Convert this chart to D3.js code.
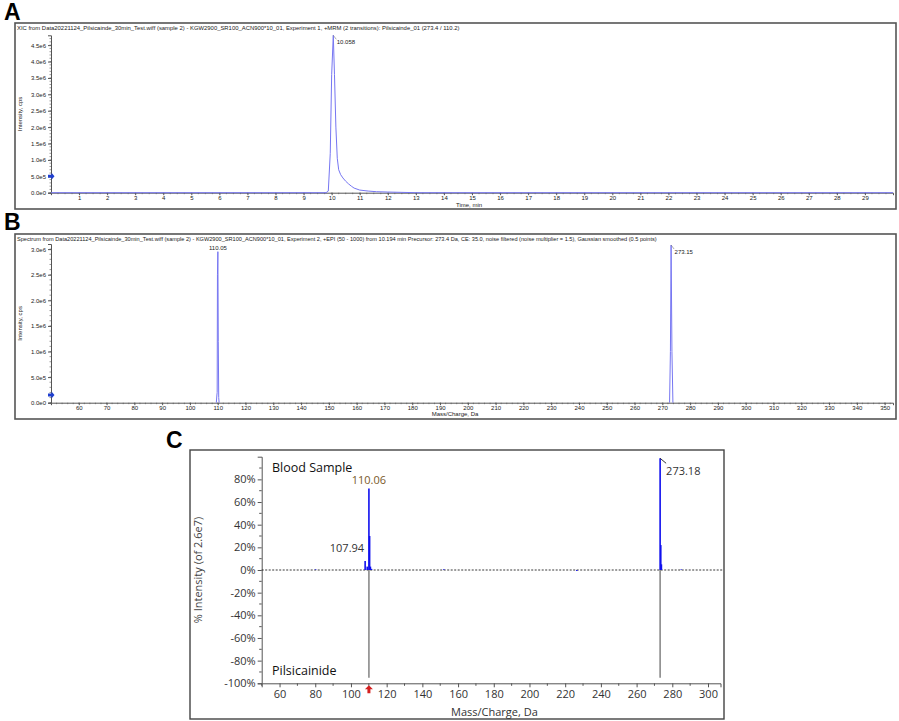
<!DOCTYPE html>
<html>
<head>
<meta charset="utf-8">
<script src="https://cdn.jsdelivr.net/npm/d3@7"></script>
<style>
  body { margin: 0; background: #fff; }
  svg { display: block; font-family: "Liberation Sans", Arial, sans-serif; }
  .small text { font-size: 6px; fill: #222; }
</style>
</head>
<body>
<div id="fig"></div>
<script>
// ---- data ----
// A: XIC trace (time in min, intensity in cps)
var xicTime = [0, 9.8, 9.88, 9.95, 10.0, 10.058, 10.1, 10.15, 10.2, 10.25, 10.32, 10.4, 10.5, 10.6, 10.7, 10.8, 11.0, 11.3, 11.6, 12.0, 12.5, 13.0, 30];
var xicInt  = [0, 0, 0.05e6, 1.2e6, 3.6e6, 4.8e6, 3.6e6, 2.0e6, 1.05e6, 0.7e6, 0.55e6, 0.45e6, 0.35e6, 0.27e6, 0.2e6, 0.14e6, 0.08e6, 0.05e6, 0.03e6, 0.02e6, 0.01e6, 0, 0];
var xicTicks = d3.range(1, 30);
var xicYTicks = [0, 0.5e6, 1.0e6, 1.5e6, 2.0e6, 2.5e6, 3.0e6, 3.5e6, 4.0e6, 4.5e6];
var xicPeak = {x: 10.058, y: 4.8e6, label: "10.058"};
var xicMarker = 5.0e5;
var xicTitle = "XIC from Data20221124_Pilsicainde_30min_Test.wiff (sample 2) - KGW2900_SR100_ACN900*10_01, Experiment 1, +MRM (2 transitions): Pilsicainde_01 (273.4 / 110.2)";

// B: product ion spectrum
var specMz1  = [109.5, 109.7, 109.8, 109.9, 110.05, 110.2, 110.35, 110.5];
var specInt1 = [0, 0.15e6, 0.2e6, 2.5e6, 2.95e6, 1.2e6, 0.1e6, 0];
var specMz2  = [272.6, 272.9, 273.15, 273.45, 273.8];
var specInt2 = [0, 1.0e6, 3.08e6, 1.0e6, 0];
var specTicks = d3.range(60, 351, 10);
var specYTicks = [0, 0.5e6, 1.0e6, 1.5e6, 2.0e6, 2.5e6, 3.0e6];
var specLabels = [{x: 110.05, y: 2.95e6, label: "110.05"}, {x: 273.15, y: 3.08e6, label: "273.15"}];
var specMarker = 1.5e5;
var specTitle = "Spectrum from Data20221124_Pilsicainde_30min_Test.wiff (sample 2) - KGW2900_SR100_ACN900*10_01, Experiment 2, +EPI (50 - 1000) from 10.194 min Precursor: 273.4 Da, CE: 35.0, noise filtered (noise multiplier = 1.5), Gaussian smoothed (0.5 points)";

// C: mirror plot, % intensity
var bloodMz  = [80.2, 107.94, 109.1, 110.06, 110.45, 110.9, 111.5, 152.0, 226.5, 273.18, 273.55, 273.9, 285.0];
var bloodPct = [0.5, 8, 3, 72, 30, 3, 1, 0.6, -0.8, 98.6, 22, 5, 0.5];
var refMz  = [110.06, 273.18];
var refPct = [-95, -95];
var mirrorXTicks = d3.range(60, 301, 20);
var mirrorYTicks = d3.range(-100, 81, 20);
var mirrorLabels = [{x: 110.06, y: 72, label: "110.06"}, {x: 107.94, y: 8, label: "107.94"}, {x: 273.18, y: 98.6, label: "273.18"}];
var precursorMz = 110.06;

var svg = d3.select("#fig").append("svg")
    .attr("width", 899)
    .attr("height", 721);

// panel letters
svg.append("text").attr("x", 4).attr("y", 20).text("A")
    .style("font-size", "23px").style("font-weight", "bold").style("font-family", "Liberation Sans, Arial");
svg.append("text").attr("x", 4).attr("y", 230).text("B")
    .style("font-size", "23px").style("font-weight", "bold").style("font-family", "Liberation Sans, Arial");
svg.append("text").attr("x", 166).attr("y", 448).text("C")
    .style("font-size", "23px").style("font-weight", "bold").style("font-family", "Liberation Sans, Arial");

var traceColor = "#7676f2";

function smallPanel(opt) {
    var g = svg.append("g").attr("class", "small");

    g.append("rect") // frame
        .attr("x", opt.frame[0]).attr("y", opt.frame[1])
        .attr("width", opt.frame[2] - opt.frame[0]).attr("height", opt.frame[3] - opt.frame[1])
        .attr("fill", "none").attr("stroke", "#555").attr("stroke-width", 1.6);

    g.append("text").attr("x", opt.frame[0] + 2).attr("y", opt.frame[1] + 7)
        .text(opt.title).style("font-size", opt.titleSize);

    var x = opt.x, y = opt.y;

    var xAxis = g.append("g")
        .attr("transform", "translate(0," + y(0) + ")")
        .call(d3.axisBottom(x).tickValues(opt.xTicks).tickSize(2.5).tickPadding(1).tickFormat(d3.format("d")));
    xAxis.append("g").selectAll("line")
        .data(opt.xMinor).join("line")
        .attr("x1", d => x(d)).attr("x2", d => x(d))
        .attr("y1", 0).attr("y2", 1.5).attr("stroke", "#555").attr("stroke-width", 0.6);

    var yAxis = g.append("g")
        .attr("transform", "translate(" + x.range()[0] + ",0)")
        .call(d3.axisLeft(y).tickValues(opt.yTicks).tickSize(3).tickPadding(2)
            .tickFormat(d => d3.format(".1e")(d).replace("+", "")));
    yAxis.append("g").selectAll("line")
        .data(opt.yMinor).join("line")
        .attr("y1", d => y(d)).attr("y2", d => y(d))
        .attr("x1", 0).attr("x2", -1.5).attr("stroke", "#555").attr("stroke-width", 0.6);
    g.selectAll(".domain").attr("stroke", "#555");
    g.selectAll(".tick line").attr("stroke", "#555");
    g.selectAll(".tick text").style("font-size", "6px").attr("fill", "#222");

    // axis titles
    g.append("text")
        .attr("transform", "translate(" + opt.yLabelX + "," + (y.range()[0] + y.range()[1]) / 2 + ") rotate(-90)")
        .attr("text-anchor", "middle").text(opt.yLabel).style("font-size", "6px");
    g.append("text").attr("x", opt.xLabelPos[0]).attr("y", opt.xLabelPos[1])
        .attr("text-anchor", "middle").text(opt.xLabel).style("font-size", "6px");

    // traces
    var line = d3.line().x(d => x(d[0])).y(d => y(d[1]));
    opt.traces.forEach(function (t) {
        g.append("path").datum(d3.zip(t[0], t[1]))
            .attr("d", line).attr("fill", "none")
            .attr("stroke", traceColor).attr("stroke-width", 1);
    });

    // blue marker on the y axis
    var my = y(opt.marker), mx = x.range()[0];
    g.append("path")
        .attr("d", "M" + (mx - 3) + "," + (my - 1.5) + "L" + (mx + 0.5) + "," + (my - 1.5) + "L" + (mx + 0.5) + "," + (my - 3.5) +
              "L" + (mx + 3.5) + "," + my + "L" + (mx + 0.5) + "," + (my + 3.5) + "L" + (mx + 0.5) + "," + (my + 1.5) +
              "L" + (mx - 3) + "," + (my + 1.5) + "Z")
        .attr("fill", "#1f3fd0");

    // peak labels
    opt.labels.forEach(function (p) {
        if (p.side === "top") {
            g.append("text").attr("x", x(p.x)).attr("y", y(p.y) - 2)
                .attr("text-anchor", "middle").text(p.label).style("font-size", "6px");
        } else {
            g.append("path")
                .attr("d", "M" + x(p.x) + "," + y(p.y) + "L" + (x(p.x) + 3) + "," + (y(p.y) + 4))
                .attr("stroke", "#777").attr("stroke-width", 0.6).attr("fill", "none");
            g.append("text").attr("x", x(p.x) + 3.5).attr("y", y(p.y) + 9)
                .text(p.label).style("font-size", "6px");
        }
    });
}

// Panel A
var xA = d3.scaleLinear().domain([0, 30]).range([51, 893]);
var yA = d3.scaleLinear().domain([0, 4.8e6]).range([192.7, 35.3]);
smallPanel({
    frame: [15, 23, 896, 209],
    title: xicTitle, titleSize: "5.9px",
    x: xA, y: yA,
    xTicks: xicTicks, xMinor: d3.range(0, 30, 0.25),
    yTicks: xicYTicks, yMinor: d3.range(0, 4.8e6, 1e5),
    yLabel: "Intensity, cps", yLabelX: 22,
    xLabel: "Time, min", xLabelPos: [469, 207.2],
    traces: [[xicTime, xicInt]],
    marker: xicMarker,
    labels: [{x: xicPeak.x, y: xicPeak.y, label: xicPeak.label, side: "right"}]
});

// Panel B
var xB = d3.scaleLinear().domain([50, 353]).range([51, 893]);
var yB = d3.scaleLinear().domain([0, 3.1e6]).range([402.7, 244]);
smallPanel({
    frame: [15, 234, 896, 419],
    title: specTitle, titleSize: "5.6px",
    x: xB, y: yB,
    xTicks: specTicks, xMinor: d3.range(50, 353, 2),
    yTicks: specYTicks, yMinor: d3.range(0, 3.1e6, 1e5),
    yLabel: "Intensity, cps", yLabelX: 22,
    xLabel: "Mass/Charge, Da", xLabelPos: [455, 416.2],
    traces: [[specMz1, specInt1], [specMz2, specInt2]],
    marker: specMarker,
    labels: [{x: specLabels[0].x, y: specLabels[0].y, label: specLabels[0].label, side: "top"},
             {x: specLabels[1].x, y: specLabels[1].y, label: specLabels[1].label, side: "right"}]
});

// Panel C
var gC = svg.append("g").style("font-family", "'Open Sans', 'Noto Sans', sans-serif");
gC.append("rect")
    .attr("x", 190).attr("y", 450).attr("width", 534).attr("height", 269)
    .attr("fill", "none").attr("stroke", "#444").attr("stroke-width", 1.4);

var xC = d3.scaleLinear().domain([50, 307]).range([261.7, 720.5]);
var yC = d3.scaleLinear().domain([-100, 100]).range([683.3, 456.7]);

var xAxisC = gC.append("g")
    .attr("transform", "translate(0," + yC(-100) + ")")
    .call(d3.axisBottom(xC).tickValues(mirrorXTicks).tickSize(4).tickPadding(3).tickFormat(d3.format("d")));
xAxisC.append("g").selectAll("line")
    .data(d3.range(50, 307, 10).filter(d => d % 20 !== 0)).join("line")
    .attr("x1", d => xC(d)).attr("x2", d => xC(d)).attr("y1", 0).attr("y2", 2.5)
    .attr("stroke", "#555");
var yAxisC = gC.append("g")
    .attr("transform", "translate(" + xC(50) + ",0)")
    .call(d3.axisLeft(yC).tickValues(mirrorYTicks).tickSize(4).tickPadding(2).tickFormat(d => d + "%"));
yAxisC.append("g").selectAll("line")
    .data(d3.range(-90, 100, 20)).join("line")
    .attr("y1", d => yC(d)).attr("y2", d => yC(d)).attr("x1", 0).attr("x2", -2.5)
    .attr("stroke", "#555");
gC.selectAll(".domain").attr("stroke", "#555");
gC.selectAll(".tick line").attr("stroke", "#555");
gC.selectAll(".tick text").style("font-size", "11px").attr("fill", "#333")
    .style("font-family", "'Open Sans', 'Noto Sans', sans-serif");

gC.append("text")
    .attr("transform", "translate(202," + yC(0) + ") rotate(-90)")
    .attr("text-anchor", "middle").text("% Intensity (of 2.6e7)")
    .style("font-size", "11px").attr("fill", "#444");
gC.append("text").attr("x", 451).attr("y", 716).text("Mass/Charge, Da")
    .style("font-size", "11px").attr("fill", "#333");

// zero line
gC.append("line")
    .attr("x1", xC(50)).attr("x2", 723).attr("y1", yC(0)).attr("y2", yC(0))
    .attr("stroke", "#222").attr("stroke-width", 0.9).attr("stroke-dasharray", "2,1.5");

// reference (library) spectrum, pointing down
gC.append("g").selectAll("line")
    .data(d3.zip(refMz, refPct)).join("line")
    .attr("x1", d => xC(d[0])).attr("x2", d => xC(d[0]))
    .attr("y1", yC(0)).attr("y2", d => yC(d[1]))
    .attr("stroke", "#8a8a8a").attr("stroke-width", 1.6);

// blood sample spectrum, pointing up
gC.append("g").selectAll("line")
    .data(d3.zip(bloodMz, bloodPct)).join("line")
    .attr("x1", d => xC(d[0])).attr("x2", d => xC(d[0]))
    .attr("y1", yC(0)).attr("y2", d => yC(d[1]))
    .attr("stroke", "#1010ee").attr("stroke-width", 1.6);

// labels
gC.append("text").attr("x", xC(110.06)).attr("y", yC(72) - 4)
    .attr("text-anchor", "middle").text(mirrorLabels[0].label)
    .style("font-size", "11px").attr("fill", "#7a5a2a");
gC.append("text").attr("x", xC(107.94) - 1).attr("y", yC(8) - 9)
    .attr("text-anchor", "end").text(mirrorLabels[1].label)
    .style("font-size", "11px").attr("fill", "#333");
gC.append("path")
    .attr("d", "M" + xC(273.18) + "," + yC(98.6) + "L" + (xC(273.18) + 6) + "," + (yC(98.6) + 5))
    .attr("stroke", "#333").attr("fill", "none");
gC.append("text").attr("x", xC(273.18) + 6).attr("y", yC(98.6) + 17)
    .text(mirrorLabels[2].label).style("font-size", "11px").attr("fill", "#333");

gC.append("text").attr("x", 272).attr("y", 472).text("Blood Sample")
    .style("font-size", "12.5px").attr("fill", "#111");
gC.append("text").attr("x", 272).attr("y", 675).text("Pilsicainide")
    .style("font-size", "12.5px").attr("fill", "#111");

// precursor arrow
var ax = xC(precursorMz), ay = yC(-100) + 2;
gC.append("path")
    .attr("d", "M" + ax + "," + ay + "L" + (ax + 4) + "," + (ay + 4) + "L" + (ax + 1.5) + "," + (ay + 4) +
          "L" + (ax + 1.5) + "," + (ay + 8) + "L" + (ax - 1.5) + "," + (ay + 8) + "L" + (ax - 1.5) + "," + (ay + 4) +
          "L" + (ax - 4) + "," + (ay + 4) + "Z")
    .attr("fill", "#d42020");
</script>
</body>
</html>
